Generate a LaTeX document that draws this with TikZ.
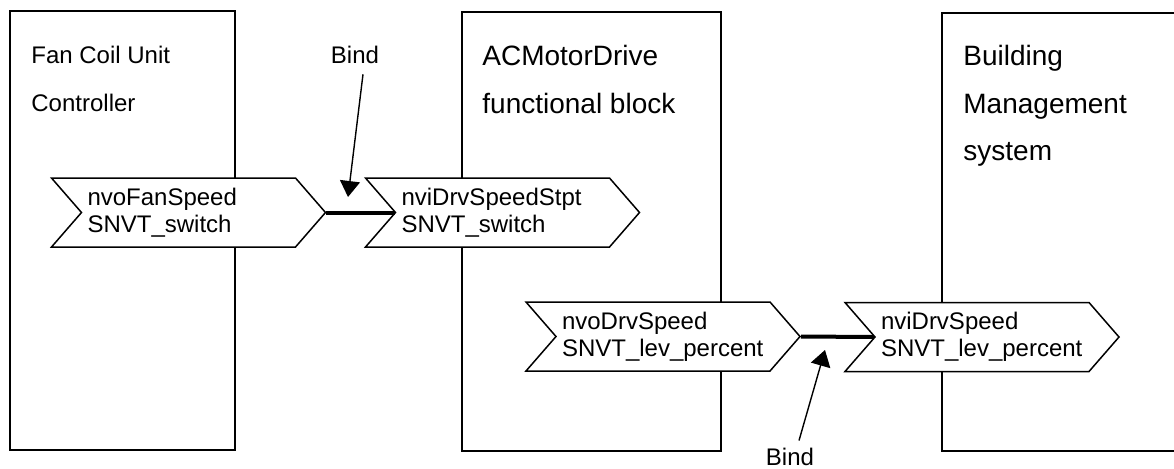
\documentclass[tikz,border=0pt]{standalone}
\usepackage{fontspec}
\setmainfont{Liberation Sans}
\usetikzlibrary{shapes.symbols, arrows.meta}

\tikzset{
  nvsignal/.style={signal, draw, fill=white, line width=0.75pt,
    signal from=west, signal to=east, signal pointer angle=98,
    minimum width=137pt, minimum height=34.5pt, inner sep=0pt,
    text width=101pt, align=left, font=\fontsize{12}{13.4}\selectfont},
  blocktitle/.style={anchor=north west, inner sep=0pt, align=left},
  bindline/.style={line width=2pt},
  bindarrow/.style={line width=0.7pt, -{Triangle[length=8pt,width=10pt]}},
  bindlabel/.style={font=\fontsize{12}{14}\selectfont}
}

\begin{document}
\begin{tikzpicture}[x=0.5pt, y=-0.5pt]
    \clip (0, 0) rectangle (1174, 468);

    % the three devices
    \draw [line width=0.75pt] (10, 11) rectangle (235, 450);
    \draw [line width=0.75pt] (462, 12) rectangle (721, 451);
    \draw [line width=0.75pt] (942, 13) rectangle (1200, 451);

    \node [blocktitle, font=\fontsize{12}{24}\selectfont] (fcu) at (31, 46)
    {Fan Coil Unit\\Controller};

    \node [blocktitle, font=\fontsize{14}{23.75}\selectfont] (drive) at (482, 45)
    {ACMotorDrive\\functional block};

    \node [blocktitle, font=\fontsize{14}{23.75}\selectfont] (bms) at (963, 45)
    {Building\\Management\\system};

    % network variables
    \node [nvsignal] (fanspeed) at (188.5, 212.5)
    {nvoFanSpeed\\SNVT\_switch};

    \node [nvsignal] (speedstpt) at (502.5, 212.5)
    {nviDrvSpeedStpt\\SNVT\_switch};

    \node [nvsignal] (drvspeedout) at (663, 336.5)
    {nvoDrvSpeed\\SNVT\_lev\_percent};

    \node [nvsignal] (drvspeedin) at (982, 337)
    {nviDrvSpeed\\SNVT\_lev\_percent};

    % bindings
    \draw [bindline] (fanspeed.east) -- (speedstpt.west);
    \draw [bindline] (drvspeedout.east) -- (drvspeedin.west);

    \node [bindlabel, anchor=base] (bindtop) at (355, 63) {Bind};
    \coordinate (bindtoptip) at (348, 197);
    \draw [bindarrow] ([shift={(8, 4)}]bindtop.south) -- (bindtoptip);

    \node [bindlabel, anchor=base] (bindbot) at (790, 465) {Bind};
    \coordinate (bindbottip) at (825, 350);
    \draw [bindarrow] ([shift={(9, 0)}]bindbot.north) -- (bindbottip);

\end{tikzpicture}
\end{document}
